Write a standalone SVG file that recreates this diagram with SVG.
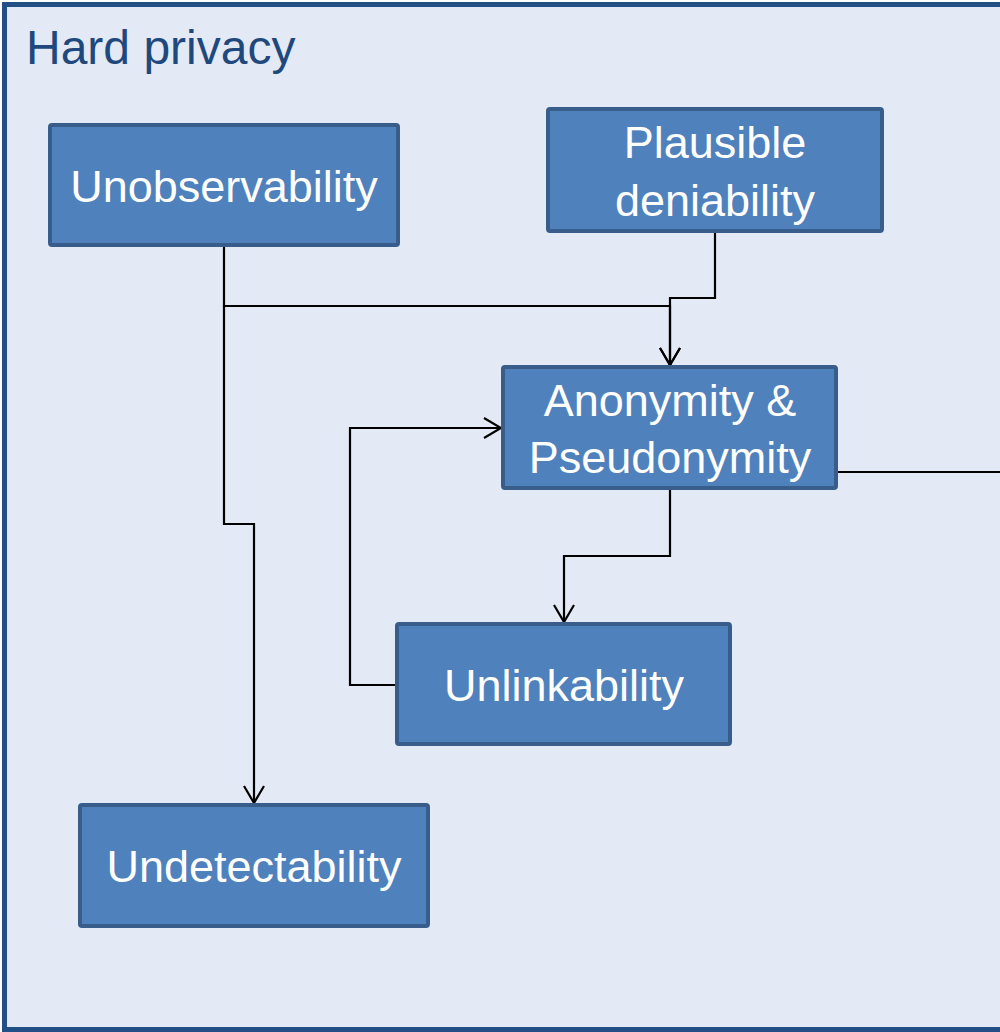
<svg xmlns="http://www.w3.org/2000/svg" width="1000" height="1032" viewBox="0 0 1000 1032">
<style>
.frame{fill:#e3eaf6;stroke:#234f87;stroke-width:5}
.box{fill:#4f81bd;stroke:#385d8a;stroke-width:4}
.lbl{font-family:"Liberation Sans",Arial,sans-serif;font-size:45px;fill:#ffffff;text-anchor:middle}
.title{font-family:"Liberation Sans",Arial,sans-serif;font-size:48px;fill:#1f497d}
.conn{fill:none;stroke:#000;stroke-width:2.2}
</style>
<defs>
<marker id="arr" markerUnits="userSpaceOnUse" viewBox="-20 -12 22 24" refX="0" refY="0" markerWidth="22" markerHeight="24" orient="auto">
<path d="M-17,-10 L0,0 L-17,10" fill="none" stroke="#000" stroke-width="2.2"/>
</marker>
</defs>
<rect class="frame" x="4.5" y="4.5" width="1010" height="1025"/>
<text class="title" x="26" y="64">Hard privacy</text>
<g id="connectors">
<path class="conn" d="M224,246 V306 H670 V365" marker-end="url(#arr)"/>
<path class="conn" d="M715,232 V298 H670 V365" marker-end="url(#arr)"/>
<path class="conn" d="M224,306 V524 H254 V803" marker-end="url(#arr)"/>
<path class="conn" d="M670,489 V556 H564 V622" marker-end="url(#arr)"/>
<path class="conn" d="M396,685 H350 V428 H501" marker-end="url(#arr)"/>
<path class="conn" d="M837,472 H1000"/>
</g>
<g id="unobservability">
<rect class="box" x="50" y="125" width="348" height="120" rx="2"/>
<text class="lbl" x="224" y="202">Unobservability</text>
</g>
<g id="plausible-deniability">
<rect class="box" x="548" y="109" width="334" height="122" rx="2"/>
<text class="lbl" x="715" y="158">Plausible</text>
<text class="lbl" x="715" y="216">deniability</text>
</g>
<g id="anonymity">
<rect class="box" x="503" y="367" width="333" height="121" rx="2"/>
<text class="lbl" x="670" y="416">Anonymity &amp;</text>
<text class="lbl" x="670" y="473">Pseudonymity</text>
</g>
<g id="unlinkability">
<rect class="box" x="397" y="624" width="333" height="120" rx="2"/>
<text class="lbl" x="564" y="701">Unlinkability</text>
</g>
<g id="undetectability">
<rect class="box" x="80" y="805" width="348" height="121" rx="2"/>
<text class="lbl" x="254" y="882">Undetectability</text>
</g>
</svg>
